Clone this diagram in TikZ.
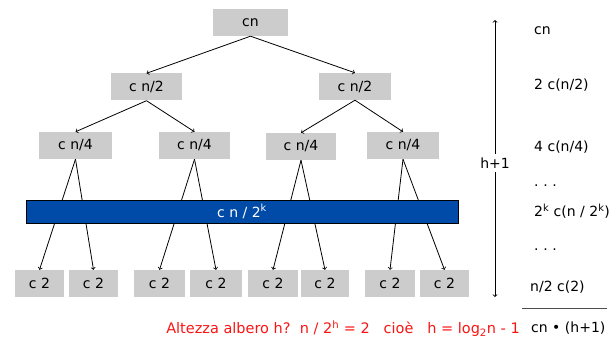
\documentclass[tikz,border=0pt]{standalone}
\usepackage{fontspec}
\setmainfont{DejaVu Sans}
\definecolor{boxgray}{RGB}{204,204,204}
\definecolor{barblue}{RGB}{0,74,168}
\definecolor{notered}{RGB}{250,20,20}
\tikzset{
  cbox/.style={fill=boxgray, minimum height=27pt, inner sep=0pt,
    font=\fontsize{14}{16}\selectfont},
  lvlbar/.style={fill=barblue, draw=black, line width=0.6pt, text=white,
    minimum width=432pt, minimum height=23pt, inner sep=0pt,
    font=\fontsize{14}{16}\selectfont},
  sumtxt/.style={anchor=west, inner sep=0pt, font=\fontsize{14}{16}\selectfont},
}
\begin{document}
\begin{tikzpicture}[x=1pt,y=-1pt]
  \useasboundingbox (0,0) rectangle (615,339);
  % tree
  \node[cbox, minimum width=75pt] (r) at (250.5,22.5) {cn};
  \node[cbox, minimum width=71pt] (a) at (146.5,87) {c n/2};
  \node[cbox, minimum width=72pt] (b) at (355,86.5) {c n/2};
  \node[cbox, minimum width=73pt] (a1) at (75.5,145.5) {c n/4};
  \node[cbox, minimum width=71pt] (a2) at (194.5,145.5) {c n/4};
  \node[cbox, minimum width=70pt] (b1) at (301,146.5) {c n/4};
  \node[cbox, minimum width=72pt] (b2) at (403,145.5) {c n/4};
  \node[cbox, minimum width=49pt] (l1) at (39.5,283.5) {c 2};
  \node[cbox, minimum width=49pt] (l2) at (93.5,283.5) {c 2};
  \node[cbox, minimum width=51pt] (l3) at (159.5,283.5) {c 2};
  \node[cbox, minimum width=52pt] (l4) at (216,283.5) {c 2};
  \node[cbox, minimum width=50pt] (l5) at (273,283.5) {c 2};
  \node[cbox, minimum width=48pt] (l6) at (325,283.5) {c 2};
  \node[cbox, minimum width=50pt] (l7) at (390,283.5) {c 2};
  \node[cbox, minimum width=49pt] (l8) at (444.5,283.5) {c 2};
  \begin{scope}[->, line width=0.8pt]
    \draw (r.south) to (a.north);
    \draw (r.south) to (b.north);
    \draw (a.south) to (a1.north);
    \draw (a.south) to (a2.north);
    \draw (b.south) to (b1.north);
    \draw (b.south) to (b2.north);
    \draw (a1.south) to (l1.north);
    \draw (a1.south) to (l2.north);
    \draw (a2.south) to (l3.north);
    \draw (a2.south) to (l4.north);
    \draw (b1.south) to (l5.north);
    \draw (b1.south) to (l6.north);
    \draw (b2.south) to (l7.north);
    \draw (b2.south) to (l8.north);
  \end{scope}
  \node[lvlbar] (lev) at (242,211.5) {c n / 2\textsuperscript{k}};
  % height
  \coordinate (htop) at (495,20);
  \coordinate (hbot) at (495,297);
  \node[font=\fontsize{14}{16}\selectfont] (hlab) at (495,163) {h+1};
  \draw[->, line width=0.8pt] (hlab.north) -- (htop);
  \draw[->, line width=0.8pt] (hlab.south) -- (hbot);
  % sums per level
  \node[sumtxt] (s0) at (534,31) {cn};
  \node[sumtxt] (s1) at (534,85) {2 c(n/2)};
  \node[sumtxt] (s2) at (534,147) {4 c(n/4)};
  \node[sumtxt] (d1) at (534,186) {.\,\,.\,\,.};
  \node[sumtxt] (s3) at (534,211) {2\textsuperscript{k} c(n / 2\textsuperscript{k})};
  \node[sumtxt] (d2) at (534,250) {.\,\,.\,\,.};
  \node[sumtxt] (s4) at (530,287) {n/2 c(2)};
  \draw[line width=0.6pt, black!70] (522,308) -- (607,308);
  \node[sumtxt] (tot) at (531,328) {cn \textbullet{} (h+1)};
  \node[anchor=east, inner sep=0pt, text=notered, font=\fontsize{14.5}{17}\selectfont] (note) at (520,329)
    {Altezza albero h?\ \ n / 2\textsuperscript{h} = 2\ \ \ cioè\ \ \ h = log\textsubscript{2}n - 1};
\end{tikzpicture}
\end{document}
